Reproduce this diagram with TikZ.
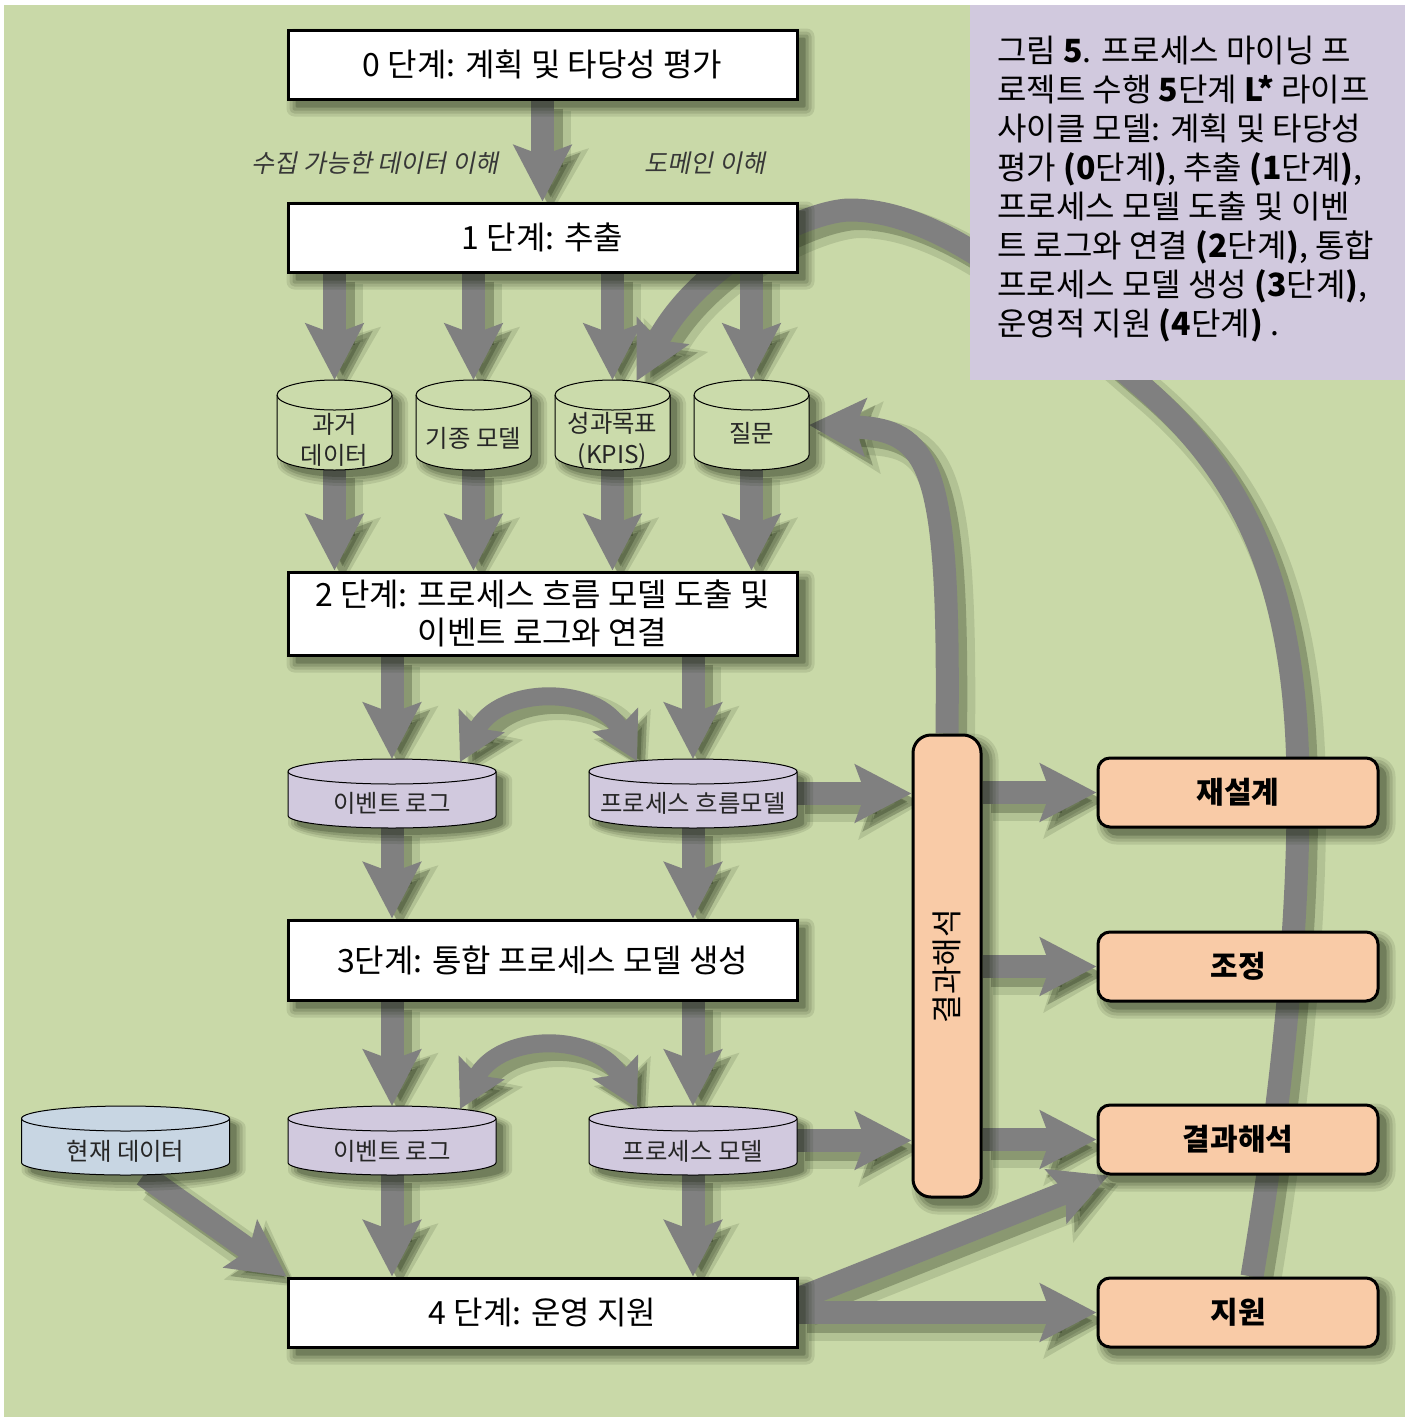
\documentclass[tikz,border=0pt]{standalone}
\usepackage{fontspec}
\setmainfont{Noto Sans CJK KR}
\newfontfamily\krit{Noto Sans CJK KR}[FakeSlant=0.2]
\usetikzlibrary{arrows.meta,calc}
\definecolor{bggreen}{RGB}{201,217,168}
\definecolor{cylgreen}{RGB}{203,219,171}
\definecolor{lav}{RGB}{209,201,222}
\definecolor{capl}{RGB}{209,201,222}
\definecolor{peach}{RGB}{249,203,167}
\definecolor{curblue}{RGB}{200,214,227}
\definecolor{agray}{RGB}{128,128,128}
\definecolor{labgray}{RGB}{55,55,55}
\definecolor{shcol}{RGB}{20,30,10}
\pgfdeclarelayer{bg}
\pgfdeclarelayer{arrows}
\pgfdeclarelayer{shad}
\pgfsetlayers{bg,arrows,shad,main}
\tikzset{
  stage/.style={draw=black, line width=1.5pt, fill=white, minimum width=254.5pt, inner sep=0pt, align=center,
     font=\fontsize{16}{19}\selectfont},
  rbox/.style={draw=black, line width=1.5pt, fill=peach, rounded corners=6pt, minimum width=140pt, minimum height=34.5pt,
     inner sep=0pt, font=\bfseries\fontsize{15}{17}\selectfont},
  vbox/.style={draw=black, line width=1.5pt, fill=peach, rounded corners=9pt, minimum width=34pt, minimum height=231pt,
     inner sep=0pt},
  cylline/.style={draw=black, line width=0.5pt},
  cyltxt/.style={align=center, inner sep=0pt, font=\fontsize{12.2}{15.5}\selectfont, text=black!85},
  lab/.style={inner sep=0pt, font=\krit\fontsize{12.5}{14}\selectfont, text=labgray},
  arr/.style={draw=agray, line width=11.5pt, -{Stealth[length=28pt,width=28.5pt,inset=5pt]}},
  darr/.style={draw=agray, line width=9pt, {Stealth[length=23pt,width=25pt,inset=4pt]}-{Stealth[length=23pt,width=25pt,inset=4pt]}},
}
% soft shadow of a (possibly rounded) rectangular node: #1 node, #2 corner radius in pt
\newcommand{\rectshadow}[2]{%
  \foreach \e/\o in {8/0.1, 5/0.12, 2/0.15, -1/0.22}{%
    \pgfmathsetmacro{\rr}{max(#2+\e*0.5,0.6)}%
    \fill[shcol, opacity=\o, rounded corners=\rr pt] ($(#1.north west)+(8-\e,8-\e)$) rectangle ($(#1.south east)+(8+\e,8+\e)$);
  }%
}
% #1 name, #2 cx, #3 top y, #4 bottom y, #5 width, #6 ry (px), #7 fill
\newcommand{\drawcyl}[7]{%
  \pgfmathsetmacro{\cxl}{#2-#5/2}%
  \pgfmathsetmacro{\cxr}{#2+#5/2}%
  \pgfmathsetmacro{\cyt}{#3+#6}%
  \pgfmathsetmacro{\cyb}{#4-#6}%
  \pgfmathsetmacro{\crx}{#5/4}%
  \pgfmathsetmacro{\cry}{#6/2}%
  \pgfmathsetmacro{\cyc}{(#3+#4)/2}%
  \pgfmathsetmacro{\chh}{(#4-#3)/2}%
  \pgfmathsetmacro{\cww}{#5/2}%
  \begin{pgfonlayer}{shad}
  \foreach \e/\o in {8/0.1, 5/0.12, 2/0.15, -1/0.22}{%
    \pgfmathsetmacro{\sxl}{\cxl+8-\e}%
    \pgfmathsetmacro{\sxr}{\cxr+8+\e}%
    \pgfmathsetmacro{\syt}{\cyt+8}%
    \pgfmathsetmacro{\syb}{\cyb+8}%
    \pgfmathsetmacro{\srx}{(\sxr-\sxl)/4}%
    \pgfmathsetmacro{\sry}{max((#6+\e)/2,1)}%
    \fill[shcol, opacity=\o] (\sxl,\syt) -- (\sxl,\syb) arc[start angle=180,end angle=360,x radius=\srx pt,y radius=\sry pt]
      -- (\sxr,\syt) arc[start angle=0,end angle=180,x radius=\srx pt,y radius=\sry pt] -- cycle;
  }%
  \end{pgfonlayer}
  \path[fill=#7] (\cxl,\cyt) -- (\cxl,\cyb) arc[start angle=180,end angle=360,x radius=\crx pt,y radius=\cry pt]
     -- (\cxr,\cyt) arc[start angle=0,end angle=180,x radius=\crx pt,y radius=\cry pt] -- cycle;
  \draw[cylline] (\cxl,\cyt) -- (\cxl,\cyb) arc[start angle=180,end angle=360,x radius=\crx pt,y radius=\cry pt]
     -- (\cxr,\cyt) arc[start angle=0,end angle=180,x radius=\crx pt,y radius=\cry pt] -- cycle;
  \draw[cylline] (\cxl,\cyt) arc[start angle=180,end angle=360,x radius=\crx pt,y radius=\cry pt];
  \node[inner sep=0pt, outer sep=0pt, minimum width=\cww pt, minimum height=\chh pt] (#1) at (#2,\cyc) {};
}
\newcommand{\connectors}{%
  \draw[arr] (b0.south) -- (b1.north);
  \foreach \c in {c1,c2,c3,c4}{
    \draw[arr] (b1.south -| \c.north) -- (\c.north);
    \draw[arr] (\c.south) -- (\c.south |- b2.north);
  }
  \foreach \c in {el2,pf2}{
    \draw[arr] (b2.south -| \c.north) -- (\c.north);
    \draw[arr] (\c.south) -- (\c.south |- b3.north);
  }
  \foreach \c in {el3,pm3}{
    \draw[arr] (b3.south -| \c.north) -- (\c.north);
    \draw[arr] (\c.south) -- (\c.south |- b4.north);
  }
  \draw[arr] ($(cur.south)+(18,0)$) -- (b4.north west);
  \draw[darr] ($(el2.north)+(68,3)$) .. controls (500,685) and (597,685) .. ($(pf2.north)+(-56,2)$);
  \draw[darr] ($(el3.north)+(68,3)$) .. controls (500,1032) and (597,1032) .. ($(pm3.north)+(-56,2)$);
  \draw[arr] (pf2.east) -- (pf2.east -| vb.west);
  \draw[arr] (pm3.east) -- (pm3.east -| vb.west);
  \foreach \r in {r1,r2,r3}{\draw[arr] (vb.east |- \r.west) -- (\r.west);}
  \draw[arr] (b4.east) -- (r4.west);
  \draw[arr] ($(b4.east)+(0,-14)$) -- ($(r3.south west)+(12,0)$);
  \draw[arr] (vb.north) .. controls (950,460) and (930,430) .. (c4.east);
  \draw[arr] ($(r4.north)+(14,0)$) .. controls (1277,1128) and (1298,950) .. (1298,800)
     .. controls (1300,580) and (1240,470) .. (1138,383)
     .. controls (1058,315) and (950,210) .. (850,210)
     .. controls (810,210) and (700,260) .. ($(c3.north)+(24,1)$);
}
\begin{document}
\begin{tikzpicture}[x=0.5pt,y=-0.5pt]
\useasboundingbox (0,0) rectangle (1411,1419);
\begin{pgfonlayer}{bg}
  \fill[white] (0,0) rectangle (1411,1419);
  \fill[bggreen] (4,5) rectangle (1405,1417);
\end{pgfonlayer}

% stage boxes
\node[stage, minimum height=34.5pt] (b0) at (542.5,64.5) {0 단계: 계획 및 타당성 평가};
\node[stage, minimum height=34.5pt] (b1) at (542.5,237.5) {1 단계: 추출};
\node[stage, minimum height=41.5pt] (b2) at (542.5,613.5) {2 단계: 프로세스 흐름 모델 도출 및\\이벤트 로그와 연결};
\node[stage, minimum height=40pt] (b3) at (542.5,960) {3단계: 통합 프로세스 모델 생성};
\node[stage, minimum height=34.5pt] (b4) at (542.5,1312.5) {4 단계: 운영 지원};

% italic labels
\node[lab] (l1) at (375,163) {수집 가능한 데이터 이해};
\node[lab] (l2) at (705,163) {도메인 이해};

% cylinders row 1
\drawcyl{c1}{334.5}{380}{470}{115}{15}{cylgreen}
\drawcyl{c2}{473.5}{380}{470}{115}{15}{cylgreen}
\drawcyl{c3}{612.5}{380}{470}{115}{15}{cylgreen}
\drawcyl{c4}{751.5}{380}{470}{115}{15}{cylgreen}
\node[cyltxt] (c1t) at (334.5,440) {과거\\데이터};
\node[cyltxt] (c2t) at (473.5,438) {기종 모델};
\node[cyltxt] (c3t) at (612.5,440) {성과목표\\(KPIS)};
\node[cyltxt] (c4t) at (751.5,433) {질문};

% cylinders row 2
\drawcyl{el2}{392}{759}{828}{208}{12.5}{lav}
\drawcyl{pf2}{693}{759}{828}{208}{12.5}{lav}
\node[cyltxt] (el2t) at (392,803) {이벤트 로그};
\node[cyltxt] (pf2t) at (693,803) {프로세스 흐름모델};

% cylinders row 3
\drawcyl{el3}{392}{1106}{1175}{208}{12.5}{lav}
\drawcyl{pm3}{693}{1106}{1175}{208}{12.5}{lav}
\drawcyl{cur}{125.5}{1106}{1175}{208}{12.5}{curblue}
\node[cyltxt] (el3t) at (392,1151) {이벤트 로그};
\node[cyltxt] (pm3t) at (693,1151) {프로세스 모델};
\node[cyltxt] (curt) at (125.5,1151) {현재 데이터};

% vertical box
\node[vbox] (vb) at (947,966) {};
\node[rotate=90, inner sep=0pt, font=\fontsize{15.5}{17}\selectfont] (vbt) at (947,966) {결과해석};

% right boxes
\node[rbox] (r1) at (1238,792.5) {재설계};
\node[rbox] (r2) at (1238,966.5) {조정};
\node[rbox] (r3) at (1238,1139.5) {결과해석};
\node[rbox] (r4) at (1238,1312.5) {지원};

% node shadows
\begin{pgfonlayer}{shad}
  \foreach \n in {b0,b1,b2,b3,b4}{\rectshadow{\n}{0}}
  \foreach \n in {r1,r2,r3,r4}{\rectshadow{\n}{6}}
  \rectshadow{vb}{9}
\end{pgfonlayer}

% caption
\node[fill=capl, anchor=north west, minimum width=217.5pt, minimum height=187.5pt, inner sep=0pt] (cap) at (970,5) {};
\node[anchor=north west, align=left, inner sep=0pt, font=\fontsize{16}{19.5}\selectfont] (capt) at (997,36)
 {그림 \textbf{5}. 프로세스 마이닝 프\\
  로젝트 수행 \textbf{5}단계 \textbf{L*} 라이프\\
  사이클 모델: 계획 및 타당성\\
  평가 \textbf{(0}단계\textbf{)}, 추출 \textbf{(1}단계\textbf{)},\\
  프로세스 모델 도출 및 이벤\\
  트 로그와 연결 \textbf{(2}단계\textbf{)}, 통합\\
  프로세스 모델 생성 \textbf{(3}단계\textbf{)},\\
  운영적 지원 \textbf{(4}단계\textbf{)} .};

% connectors
\begin{pgfonlayer}{arrows}
  \begin{scope}[transform canvas={xshift=5pt,yshift=-5pt},
      arr/.style={draw=shcol, opacity=0.12, line width=18pt, -{Stealth[length=31pt,width=35pt,inset=5pt]}},
      darr/.style={draw=shcol, opacity=0.12, line width=15pt, {Stealth[length=26pt,width=31pt,inset=4pt]}-{Stealth[length=26pt,width=31pt,inset=4pt]}}]
    \connectors
  \end{scope}
  \begin{scope}[transform canvas={xshift=4pt,yshift=-4pt},
      arr/.style={draw=shcol, opacity=0.25, line width=12pt, -{Stealth[length=28pt,width=29pt,inset=5pt]}},
      darr/.style={draw=shcol, opacity=0.25, line width=9.5pt, {Stealth[length=23pt,width=26pt,inset=4pt]}-{Stealth[length=23pt,width=26pt,inset=4pt]}}]
    \connectors
  \end{scope}
  \connectors
\end{pgfonlayer}
\end{tikzpicture}
\end{document}
